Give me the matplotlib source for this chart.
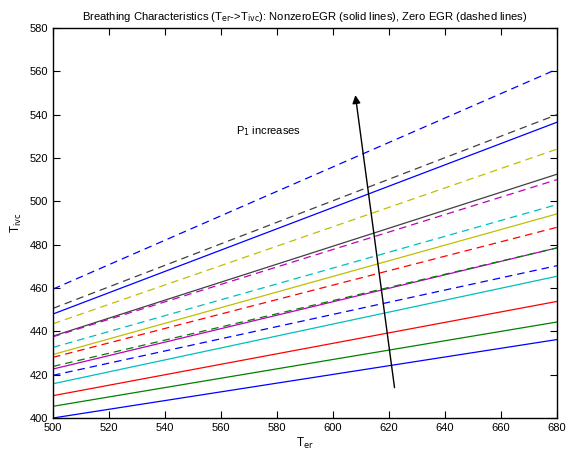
import matplotlib
matplotlib.use("Agg")
import matplotlib.pyplot as plt

plt.rcParams['font.family'] = ['Liberation Sans', 'DejaVu Sans']

# === Data ===
T_er = [500, 680]

colors = ['#0000ff', '#008000', '#ff0000', '#00bfbf',
          '#bf00bf', '#bfbf00', '#404040', '#0000ff']

# Nonzero EGR (solid) lines: T_ivc at T_er = 500 and 680
solid_start = [400.0, 405.4, 410.3, 415.8, 422.6, 429.3, 437.8, 448.0]
solid_end = [436.2, 444.3, 453.8, 465.4, 478.5, 494.2, 512.5, 536.5]

# Zero EGR (dashed) lines
dashed_start = [419.7, 423.8, 428.0, 432.6, 437.5, 443.5, 450.6, 459.5]
dashed_end = [470.3, 478.5, 488.0, 498.5, 510.0, 524.1, 540.0, 561.0]

arrow_tail = (622, 414)
arrow_head = (608, 549)
label_pos = (565.5, 532.5)

# === Plot ===
fig = plt.figure(figsize=(5.7, 4.54), dpi=100)
ax = fig.add_axes([0.093, 0.0793, 0.884, 0.859])

for c, a, b in zip(colors, solid_start, solid_end):
    ax.plot(T_er, [a, b], color=c, linestyle='-', linewidth=0.9)
for c, a, b in zip(colors, dashed_start, dashed_end):
    ax.plot(T_er, [a, b], color=c, linestyle=(0, (6, 4)), linewidth=0.9)

ax.annotate('', xy=arrow_head, xytext=arrow_tail,
            arrowprops=dict(arrowstyle='-|>', color='black', lw=1.0,
                            mutation_scale=12, shrinkA=0, shrinkB=0))
ax.text(label_pos[0], label_pos[1], r'P$_1$ increases', fontsize=8,
        va='center', ha='left')

ax.set_xlim(500, 680)
ax.set_ylim(400, 580)
ax.set_xticks(range(500, 681, 20))
ax.set_yticks(range(400, 581, 20))
ax.tick_params(direction='in', top=True, right=True, labelsize=8, length=5)
for s in ax.spines.values():
    s.set_linewidth(1.0)

ax.set_xlabel(r'T$_{\mathrm{er}}$', fontsize=8.5, labelpad=2)
ax.set_ylabel(r'T$_{\mathrm{ivc}}$', fontsize=8.5, labelpad=4)
ax.set_title(r'Breathing Characteristics (T$_{\mathrm{er}}$->T$_{\mathrm{ivc}}$): '
             'NonzeroEGR (solid lines), Zero EGR (dashed lines)',
             fontsize=8.1, pad=6)

plt.savefig('out.png', dpi=100)
